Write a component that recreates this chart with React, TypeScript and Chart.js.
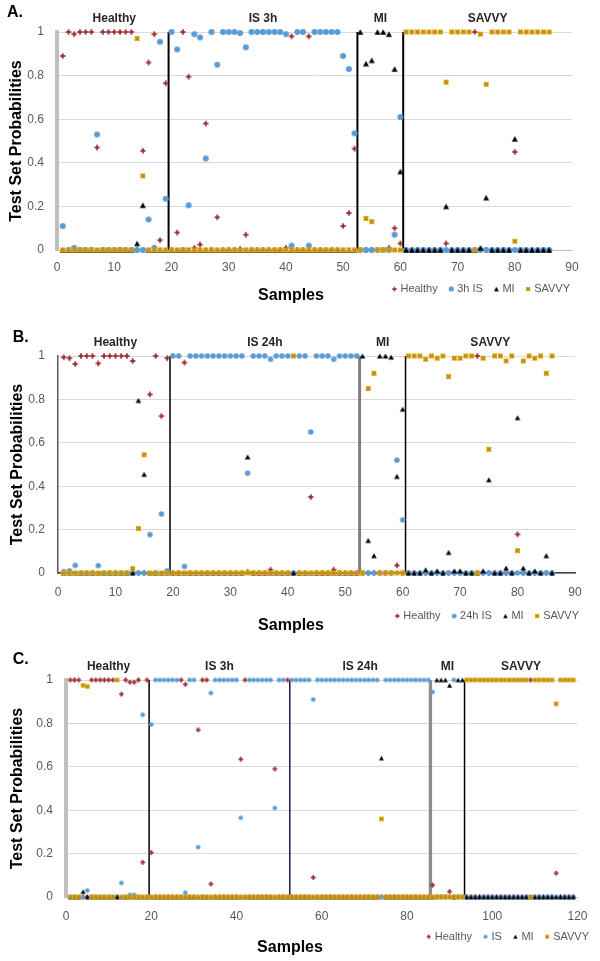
import React, { useEffect, useRef } from 'react';
import { Chart, registerables } from 'chart.js';

Chart.register(...registerables);

const FONT = '"Liberation Sans", Arial, Helvetica, sans-serif';
Chart.defaults.font.family = FONT;

// ---------------- Panel A data (samples 1..86) ----------------
const groupsA = ['Healthy', 'IS 3h', 'MI', 'SAVVY'];
const boundariesA = [19.5, 52.5, 60.5];
const legendA = ['Healthy', '3h IS', 'MI', 'SAVVY'];
const healthyA = [
  0.89, 1, 0.99, 1, 1, 1, 0.47, 1, 1, 1,
  1, 1, 1, 0, 0.455, 0.86, 0.99, 0.045, 0.765, 0,
  0.08, 1, 0.795, 0.01, 0.025, 0.58, 0, 0.15, 0, 0,
  0, 0.005, 0.07, 0, 0, 0, 0, 0, 0, 0.01,
  0.98, 0, 0, 0.98, 0, 0, 0, 0, 0, 0.11,
  0.17, 0.465, 0, 0, 0, 0, 0, 0.01, 0.1, 0.03,
  0, 0, 0, 0, 0, 0, 0, 0.03, 0, 0,
  0, 0, 1, 0, 0, 0, 0, 0, 0, 0.45,
  0, 0, 0, 0, 0, 0,
];
const isA = [
  0.11, 0, 0.01, 0, 0, 0, 0.53, 0, 0, 0,
  0, 0, 0, 0, 0, 0.14, 0.01, 0.955, 0.235, 1,
  0.92, 0, 0.205, 0.99, 0.975, 0.42, 1, 0.85, 1, 1,
  1, 0.995, 0.93, 1, 1, 1, 1, 1, 1, 0.99,
  0.02, 1, 1, 0.02, 1, 1, 1, 1, 1, 0.89,
  0.83, 0.535, 0, 0, 0, 0, 0, 0, 0.07, 0.61,
  0, 0, 0, 0, 0, 0, 0, 0, 0, 0,
  0, 0, 0, 0, 0, 0, 0, 0, 0, 0,
  0, 0, 0, 0, 0, 0,
];
const miA = [
  0, 0, 0, 0, 0, 0, 0, 0, 0, 0,
  0, 0, 0, 0.03, 0.205, 0, 0, 0, 0, 0,
  0, 0, 0, 0, 0, 0, 0, 0, 0, 0,
  0, 0, 0, 0, 0, 0, 0, 0, 0, 0,
  0, 0, 0, 0, 0, 0, 0, 0, 0, 0,
  0, 0, 1, 0.855, 0.87, 1, 1, 0.99, 0.83, 0.36,
  0, 0, 0, 0, 0, 0, 0, 0.2, 0, 0,
  0, 0, 0, 0.01, 0.24, 0, 0, 0, 0, 0.51,
  0, 0, 0, 0, 0, 0,
];
const savvyA = [
  0, 0, 0, 0, 0, 0, 0, 0, 0, 0,
  0, 0, 0, 0.97, 0.34, 0, 0, 0, 0, 0,
  0, 0, 0, 0, 0, 0, 0, 0, 0, 0,
  0, 0, 0, 0, 0, 0, 0, 0, 0, 0,
  0, 0, 0, 0, 0, 0, 0, 0, 0, 0,
  0, 0, 0, 0.145, 0.13, 0, 0, 0, 0, 0,
  1, 1, 1, 1, 1, 1, 1, 0.77, 1, 1,
  1, 1, 0, 0.99, 0.76, 1, 1, 1, 1, 0.04,
  1, 1, 1, 1, 1, 1,
];

// ---------------- Panel B data (samples 1..86) ----------------
const groupsB = ['Healthy', 'IS 24h', 'MI', 'SAVVY'];
const boundariesB = [19.5, 52.5, 60.5];
const legendB = ['Healthy', '24h IS', 'MI', 'SAVVY'];
const healthyB = [
  0.994, 0.99, 0.963, 1, 1, 1, 0.966, 1, 1, 1,
  1, 1, 0.977, 0, 0, 0.823, 1, 0.723, 0.99, 0,
  0, 0.97, 0, 0, 0, 0, 0, 0, 0, 0,
  0, 0, 0.005, 0, 0, 0, 0.015, 0, 0, 0,
  0, 0, 0, 0.35, 0, 0, 0, 0.015, 0, 0,
  0, 0, 0, 0, 0, 0, 0, 0, 0.035, 0,
  0, 0, 0, 0, 0, 0, 0, 0, 0, 0,
  0, 0, 1, 0, 0, 0, 0, 0, 0, 0.178,
  0, 0, 0, 0, 0, 0,
];
const isB = [
  0.006, 0.01, 0.035, 0, 0, 0, 0.034, 0, 0, 0,
  0, 0, 0, 0, 0, 0.177, 0, 0.272, 0.01, 1,
  1, 0.03, 1, 1, 1, 1, 1, 1, 1, 1,
  1, 1, 0.46, 1, 1, 1, 0.985, 1, 1, 1,
  0, 1, 1, 0.65, 1, 1, 1, 0.985, 1, 1,
  1, 1, 0, 0, 0, 0, 0, 0, 0.52, 0.245,
  0, 0, 0, 0, 0, 0, 0, 0, 0, 0,
  0, 0, 0, 0, 0, 0, 0, 0, 0, 0,
  0, 0, 0, 0, 0, 0,
];
const miB = [
  0, 0, 0, 0, 0, 0, 0, 0, 0, 0,
  0, 0, 0, 0.795, 0.455, 0, 0, 0, 0, 0,
  0, 0, 0, 0, 0, 0, 0, 0, 0, 0,
  0, 0, 0.535, 0, 0, 0, 0, 0, 0, 0,
  0, 0, 0, 0, 0, 0, 0, 0, 0, 0,
  0, 0, 1, 0.15, 0.08, 1, 1, 0.995, 0.445, 0.755,
  0, 0, 0, 0.015, 0, 0.01, 0, 0.095, 0.01, 0.01,
  0, 0, 0, 0.01, 0.43, 0, 0, 0.023, 0, 0.716,
  0.023, 0, 0.01, 0, 0.08, 0,
];
const savvyB = [
  0, 0, 0, 0, 0, 0, 0, 0, 0, 0,
  0, 0, 0.02, 0.205, 0.545, 0, 0, 0, 0, 0,
  0, 0, 0, 0, 0, 0, 0, 0, 0, 0,
  0, 0, 0, 0, 0, 0, 0, 0, 0, 0,
  1, 0, 0, 0, 0, 0, 0, 0, 0, 0,
  0, 0, 0, 0.85, 0.92, 0, 0, 0, 0, 0,
  1, 1, 1, 0.985, 1, 0.99, 1, 0.905, 0.99, 0.99,
  1, 1, 0, 0.99, 0.57, 1, 1, 0.977, 1, 0.103,
  0.977, 1, 0.99, 1, 0.92, 1,
];

// ---------------- Panel C data (samples 1..119) ----------------
const groupsC = ['Healthy', 'IS 3h', 'IS 24h', 'MI', 'SAVVY'];
const boundariesC = [19.5, 52.5, 85.5, 93.5];
const legendC = ['Healthy', 'IS', 'MI', 'SAVVY'];
const healthyC = [
  1, 1, 1, 0, 0, 1, 1, 1, 1, 1,
  1, 0, 0.935, 1, 0.99, 0.99, 1, 0.16, 1, 0.205,
  0, 0, 0, 0, 0, 0, 1, 0.98, 0, 0,
  0.77, 1, 1, 0.06, 0, 0, 0, 0, 0, 0,
  0.635, 1, 0, 0, 0, 0, 0, 0, 0.59, 0,
  0, 1, 0, 0, 0, 0, 0, 0.09, 0, 0,
  0, 0, 0, 0, 0, 0, 0, 0, 0, 0,
  0, 0, 0, 0, 0, 0, 0, 0, 0, 0,
  0, 0, 0, 0, 0, 0.055, 0, 0, 0, 0.025,
  0, 0, 0, 0, 0, 0, 0, 0, 0, 0,
  0, 0, 0, 0, 0, 0, 0, 0, 1, 0,
  0, 0, 0, 0, 0.11, 0, 0, 0, 0,
];
const isC = [
  0, 0, 0, 0, 0.03, 0, 0, 0, 0, 0,
  0, 0, 0.065, 0, 0.01, 0.01, 0, 0.84, 0, 0.795,
  1, 1, 1, 1, 1, 1, 0, 0.02, 1, 1,
  0.23, 0, 0, 0.94, 1, 1, 1, 1, 1, 1,
  0.365, 0, 1, 1, 1, 1, 1, 1, 0.41, 1,
  1, 0, 1, 1, 1, 1, 1, 0.91, 1, 1,
  1, 1, 1, 1, 1, 1, 1, 1, 1, 1,
  1, 1, 1, 0, 1, 1, 1, 1, 1, 1,
  1, 1, 1, 1, 1, 0.945, 0, 0, 0, 0,
  1, 0, 0, 0, 0, 0, 0, 0, 0, 0,
  0, 0, 0, 0, 0, 0, 0, 0, 0, 0,
  0, 0, 0, 0, 0, 0, 0, 0, 0,
];
const miC = [
  0, 0, 0, 0.025, 0, 0, 0, 0, 0, 0,
  0, 0, 0, 0, 0, 0, 0, 0, 0, 0,
  0, 0, 0, 0, 0, 0, 0, 0, 0, 0,
  0, 0, 0, 0, 0, 0, 0, 0, 0, 0,
  0, 0, 0, 0, 0, 0, 0, 0, 0, 0,
  0, 0, 0, 0, 0, 0, 0, 0, 0, 0,
  0, 0, 0, 0, 0, 0, 0, 0, 0, 0,
  0, 0, 0, 0.64, 0, 0, 0, 0, 0, 0,
  0, 0, 0, 0, 0, 0, 1, 1, 1, 0.975,
  0, 1, 1, 0, 0, 0, 0, 0, 0, 0,
  0, 0, 0, 0, 0, 0, 0, 0, 0, 0,
  0, 0, 0, 0, 0, 0, 0, 0, 0,
];
const savvyC = [
  0, 0, 0, 0.975, 0.97, 0, 0, 0, 0, 0,
  0, 1, 0, 0, 0, 0, 0, 0, 0, 0,
  0, 0, 0, 0, 0, 0, 0, 0, 0, 0,
  0, 0, 0, 0, 0, 0, 0, 0, 0, 0,
  0, 0, 0, 0, 0, 0, 0, 0, 0, 0,
  0, 0, 0, 0, 0, 0, 0, 0, 0, 0,
  0, 0, 0, 0, 0, 0, 0, 0, 0, 0,
  0, 0, 0, 0.36, 0, 0, 0, 0, 0, 0,
  0, 0, 0, 0, 0, 0, 0, 0, 0, 0,
  0, 0, 0, 1, 1, 1, 1, 1, 1, 1,
  1, 1, 1, 1, 1, 1, 1, 1, 0, 1,
  1, 1, 1, 1, 0.89, 1, 1, 1, 1,
];

const yTickStep = 0.2;
const yAxisTitle = 'Test Set Probabilities';
const xAxisTitle = 'Samples';

// ---------------- layout / style (not data) ----------------
type LineStyle = { color: string; width: number };
type PanelCfg = {
  key: string;
  top: number;
  height: number;
  area: { left: number; right: number; top: number; bottom: number };
  xMax: number;
  xStep: number;
  series: number[][];
  legend: string[];
  groups: string[];
  boundaries: number[];
  lines: LineStyle[];
  yBorder: LineStyle;
  xBorder: LineStyle;
  letter: string;
  letterX: number;
  letterY: number;
  yTitlePad: number;
  xTickPad: number;
  xTitleX: number;
  xTitleY: number;
  legendRight: number;
  legendY: number;
  marker: { star: number; circle: number; tri: number; sq: number };
};

const panels: PanelCfg[] = [
  {
    key: 'A', top: 0, height: 320,
    area: { left: 57, right: 572, top: 32, bottom: 250 },
    xMax: 90, xStep: 10,
    series: [healthyA, isA, miA, savvyA],
    legend: legendA, groups: groupsA, boundaries: boundariesA,
    lines: [{ color: '#000', width: 2 }, { color: '#000', width: 2 }, { color: '#000', width: 2 }],
    yBorder: { color: '#bfbfbf', width: 4 }, xBorder: { color: '#bfbfbf', width: 1 },
    letter: 'A.', letterX: 7, letterY: 13,
    yTitlePad: 7.4, xTickPad: 10.8, xTitleX: 291, xTitleY: 296,
    legendRight: 570, legendY: 289,
    marker: { star: 5.5, circle: 6, tri: 6, sq: 5 },
  },
  {
    key: 'B', top: 320, height: 330,
    area: { left: 58, right: 575, top: 36, bottom: 253 },
    xMax: 90, xStep: 10,
    series: [healthyB, isB, miB, savvyB],
    legend: legendB, groups: groupsB, boundaries: boundariesB,
    lines: [{ color: '#000', width: 1.5 }, { color: '#808080', width: 3 }, { color: '#000', width: 1.5 }],
    yBorder: { color: '#595959', width: 1.5 }, xBorder: { color: '#404040', width: 1.5 },
    letter: 'B.', letterX: 12.7, letterY: 18,
    yTitlePad: 7.9, xTickPad: 12.1, xTitleX: 291, xTitleY: 306,
    legendRight: 579, legendY: 296,
    marker: { star: 5.5, circle: 5.5, tri: 5.5, sq: 5 },
  },
  {
    key: 'C', top: 650, height: 311,
    area: { left: 66, right: 585, top: 30, bottom: 247 },
    xMax: 120, xStep: 20,
    series: [healthyC, isC, miC, savvyC],
    legend: legendC, groups: groupsC, boundaries: boundariesC,
    lines: [{ color: '#000', width: 1.5 }, { color: '#1a1a40', width: 1.5 }, { color: '#8c8c8c', width: 3.3 }, { color: '#000', width: 1.5 }],
    yBorder: { color: '#bfbfbf', width: 4 }, xBorder: { color: '#bfbfbf', width: 1 },
    letter: 'C.', letterX: 12.7, letterY: 10,
    yTitlePad: 8.4, xTickPad: 12.5, xTitleX: 290, xTitleY: 298,
    legendRight: 589, legendY: 286.7,
    marker: { star: 4.8, circle: 4.6, tri: 5, sq: 4.6 },
  },
];

const RED = '#9c2a2e';
const BLUE = '#5b9bd5';
const GOLD = '#e6ad14';

function makeMarker(kind: string, size: number): HTMLCanvasElement {
  const pad = 2;
  const s = Math.ceil(size) + pad * 2;
  const c = document.createElement('canvas');
  c.width = s;
  c.height = s;
  const g = c.getContext('2d')!;
  const m = s / 2;
  const r = size / 2;
  if (kind === 'star') {
    g.strokeStyle = RED;
    g.lineWidth = 1.6;
    g.beginPath();
    g.moveTo(m - r, m); g.lineTo(m + r, m);
    g.moveTo(m, m - r); g.lineTo(m, m + r);
    g.stroke();
    g.fillStyle = RED;
    const d = r * 0.7;
    g.beginPath();
    g.moveTo(m, m - d); g.lineTo(m + d, m); g.lineTo(m, m + d); g.lineTo(m - d, m);
    g.closePath();
    g.fill();
  } else if (kind === 'circle') {
    g.fillStyle = BLUE;
    g.beginPath();
    g.arc(m, m, r, 0, Math.PI * 2);
    g.fill();
  } else if (kind === 'tri') {
    g.fillStyle = '#000';
    const h = size * 0.9;
    g.beginPath();
    g.moveTo(m, m - h / 2); g.lineTo(m + r, m + h / 2); g.lineTo(m - r, m + h / 2);
    g.closePath();
    g.fill();
  } else {
    g.fillStyle = GOLD;
    g.fillRect(m - r, m - r, size, size);
    g.strokeStyle = '#8d6a1c';
    g.lineWidth = 0.9;
    const e = 0.8;
    g.beginPath();
    g.moveTo(m - r + e, m - r + e); g.lineTo(m + r - e, m + r - e);
    g.moveTo(m + r - e, m - r + e); g.lineTo(m - r + e, m + r - e);
    g.stroke();
  }
  return c;
}

function buildChart(canvas: HTMLCanvasElement, cfg: PanelCfg) {
  const markers = [
    makeMarker('star', cfg.marker.star),
    makeMarker('circle', cfg.marker.circle),
    makeMarker('tri', cfg.marker.tri),
    makeMarker('sq', cfg.marker.sq),
  ];
  const orders = [4, 3, 2, 1];
  const pointSets = cfg.series.map((vals, si) => ({
    type: 'scatter' as const,
    label: cfg.legend[si],
    data: vals.map((v, i) => ({ x: i + 1, y: v })),
    pointStyle: markers[si],
    pointRadius: 3,
    pointHoverRadius: 3,
    backgroundColor: [RED, BLUE, '#000', GOLD][si],
    borderColor: [RED, BLUE, '#000', GOLD][si],
    order: orders[si],
    clip: false as any,
  }));
  const lineSets = cfg.boundaries.map((b, i) => ({
    type: 'scatter' as const,
    label: '',
    data: [{ x: b, y: 0 }, { x: b, y: 1 }],
    showLine: true,
    borderColor: cfg.lines[i].color,
    borderWidth: cfg.lines[i].width,
    pointRadius: 0,
    pointHoverRadius: 0,
    order: 10,
  }));

  const decor = {
    id: 'decor',
    afterDraw(chart: any) {
      const { ctx, chartArea } = chart;
      const x = chart.scales.x;
      ctx.save();
      // panel letter
      ctx.fillStyle = '#000';
      ctx.textAlign = 'left';
      ctx.textBaseline = 'middle';
      ctx.font = `bold 16px ${FONT}`;
      ctx.fillText(cfg.letter, cfg.letterX, cfg.letterY);
      // group labels
      ctx.font = `bold 12px ${FONT}`;
      ctx.fillStyle = '#262626';
      ctx.textAlign = 'center';
      const edges = [0.5, ...cfg.boundaries, cfg.xMax];
      cfg.groups.forEach((gname, i) => {
        const mid = (edges[i] + edges[i + 1]) / 2;
        ctx.fillText(gname, x.getPixelForValue(mid), chartArea.top - 13);
      });
      // x title
      ctx.font = `bold 16px ${FONT}`;
      ctx.fillStyle = '#000';
      ctx.fillText(xAxisTitle, cfg.xTitleX, cfg.xTitleY);
      // legend
      ctx.font = `11px ${FONT}`;
      ctx.fillStyle = '#595959';
      ctx.textAlign = 'left';
      const ws = cfg.legend.map((t) => ctx.measureText(t).width);
      const gapMT = 6;
      const gapTM = 13.5;
      let total = 0;
      ws.forEach((w, i) => { total += gapMT + w + (i < ws.length - 1 ? gapTM : 0); });
      let mx = cfg.legendRight - total;
      cfg.legend.forEach((t, i) => {
        const img = markers[i];
        const sc = 0.85;
        ctx.drawImage(img, mx - (img.width * sc) / 2, cfg.legendY - (img.height * sc) / 2, img.width * sc, img.height * sc);
        ctx.fillText(t, mx + gapMT, cfg.legendY);
        mx += gapMT + ws[i] + gapTM;
      });
      ctx.restore();
    },
  };

  const { area } = cfg;
  return new Chart(canvas, {
    type: 'scatter',
    data: { datasets: [...pointSets, ...lineSets] as any },
    options: {
      responsive: false,
      animation: false,
      devicePixelRatio: 1,
      layout: { padding: { left: 0, right: 600 - area.right, top: area.top, bottom: 0 } },
      plugins: { legend: { display: false }, tooltip: { enabled: false } },
      events: [],
      scales: {
        x: {
          type: 'linear',
          min: 0,
          max: cfg.xMax,
          ticks: { stepSize: cfg.xStep, autoSkip: false, maxRotation: 0, padding: cfg.xTickPad, color: '#595959', font: { size: 12 } },
          grid: { drawOnChartArea: false, drawTicks: false },
          border: { display: true, color: cfg.xBorder.color, width: cfg.xBorder.width },
          afterFit: (s: any) => { s.height = cfg.height - area.bottom; },
        },
        y: {
          type: 'linear',
          min: 0,
          max: 1,
          ticks: {
            stepSize: yTickStep,
            padding: 13,
            color: '#595959',
            font: { size: 12 },
            callback: (v: any) => String(Math.round(Number(v) * 10) / 10),
          },
          grid: { color: '#d9d9d9', lineWidth: 1, drawTicks: false },
          border: { display: true, color: cfg.yBorder.color, width: cfg.yBorder.width },
          title: { display: true, text: yAxisTitle, color: '#000', font: { size: 16, weight: 'bold' }, padding: { top: cfg.yTitlePad, bottom: 0 } },
          afterFit: (s: any) => { s.width = area.left; },
        },
      },
    } as any,
    plugins: [decor],
  });
}

function Panel({ cfg }: { cfg: PanelCfg }) {
  const ref = useRef<HTMLCanvasElement>(null);
  useEffect(() => {
    const chart = buildChart(ref.current!, cfg);
    return () => chart.destroy();
  }, [cfg]);
  return (
    <canvas
      ref={ref}
      width={600}
      height={cfg.height}
      style={{ position: 'absolute', left: 0, top: cfg.top, display: 'block', width: 600, height: cfg.height }}
    />
  );
}

export default function App() {
  return (
    <div style={{ position: 'absolute', left: 0, top: 0, width: 600, height: 961, background: '#fff', overflow: 'hidden' }}>
      {panels.map((p) => (
        <Panel key={p.key} cfg={p} />
      ))}
    </div>
  );
}
